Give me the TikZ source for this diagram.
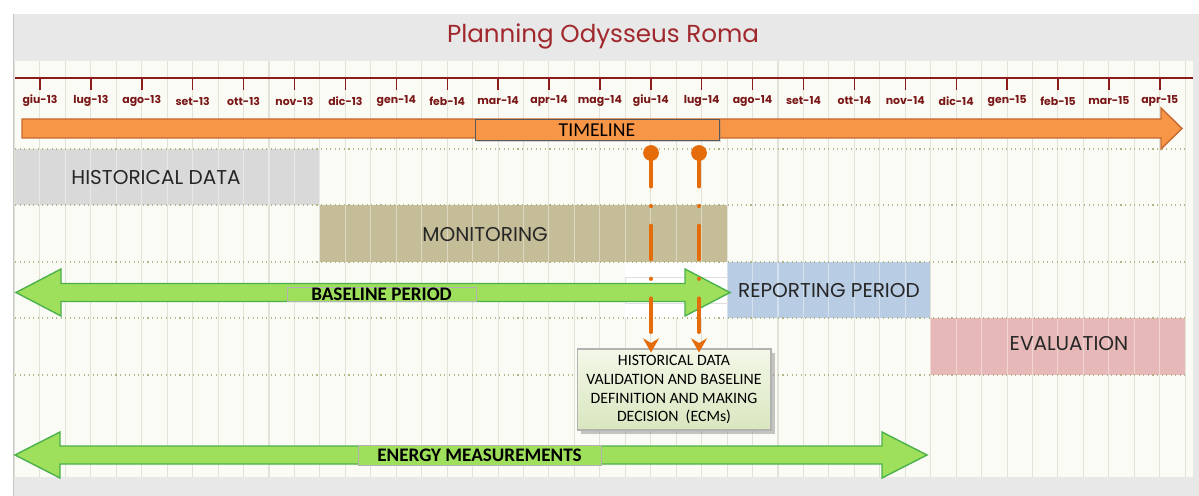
\documentclass[tikz,border=0pt]{standalone}
\usepackage{fontspec}
\setmainfont{Carlito}
\newfontfamily\gothic{Poppins}
\usepackage{xcolor}
\usetikzlibrary{arrows.meta,shadows,calc}

\definecolor{panelgray}{HTML}{E8E8E8}
\definecolor{chartbg}{HTML}{FBFBF5}
\definecolor{gridline}{HTML}{E2E2D9}
\definecolor{rowline}{HTML}{B4B488}
\definecolor{axisred}{HTML}{8E1B1B}
\definecolor{titlered}{HTML}{A0282D}
\definecolor{tlorange}{HTML}{F79646}
\definecolor{tledge}{HTML}{C8692E}
\definecolor{pinorange}{HTML}{E46C0A}
\definecolor{histgray}{HTML}{D9D9D9}
\definecolor{monkhaki}{HTML}{C4BD97}
\definecolor{repblue}{HTML}{B8CCE4}
\definecolor{evalpink}{HTML}{E6B9B8}
\definecolor{arrowgreen}{HTML}{9EE05C}
\definecolor{arrowedge}{HTML}{4CB04C}
\definecolor{boxgreenA}{HTML}{F3F8E8}
\definecolor{boxgreenB}{HTML}{D9E6BF}

\begin{document}
\begin{tikzpicture}[
    x=0.02cm, y=-0.02cm,
    title/.style={font=\gothic\fontsize{14}{16}\selectfont, text=titlered},
    month/.style={font=\gothic\bfseries\fontsize{6.2}{7}\selectfont, text=axisred!85!black},
    bartext/.style={font=\gothic\fontsize{11.4}{13}\selectfont, text=black!85},
    tlbody/.style={fill=tlorange, draw=tledge, line width=0.8pt},
    tlbox/.style={draw=gray!70!black, line width=0.5pt, minimum width=4.88cm, minimum height=0.42cm,
                  inner sep=0pt, font=\fontsize{11.2}{12}\selectfont,
                  drop shadow={shadow xshift=1pt, shadow yshift=-1pt, opacity=0.3}, fill=tlorange},
    greenarrow/.style={fill=arrowgreen, draw=arrowedge, line width=0.8pt},
    arrowtag/.style={draw=gray!60, line width=0.4pt, inner sep=0pt, fill=arrowgreen,
                     font=\bfseries\fontsize{10.9}{12}\selectfont},
    decision/.style={draw=gray!60, line width=0.6pt, top color=boxgreenA, bottom color=boxgreenB,
                     minimum width=3.88cm, minimum height=1.62cm, inner sep=1pt, align=center,
                     font=\fontsize{9}{10.8}\selectfont,
                     drop shadow={shadow xshift=2pt, shadow yshift=-2pt, opacity=0.45}},
    pinline/.style={pinorange, line width=2.4pt, line cap=round,
                    dash pattern=on 19pt off 11.2pt on 0.01pt off 11.2pt},
    >={Stealth[length=8pt,width=9pt]}
]
\useasboundingbox (0,0) rectangle (1199,496);

% frame and chart area
\fill[panelgray] (13,14) rectangle (1199,496);
\draw[gray!45, line width=1pt] (13.5,14) -- (13.5,496);
\fill[chartbg] (15,61) rectangle (1193,477);
\foreach \i in {0,...,46}
    \draw[gridline, line width=0.6pt] ({14.5+25.45*\i},61) -- ++(0,416);

\node[title] (title) at (603,36) {Planning Odysseus Roma};

% month axis
\draw[axisred, line width=1.2pt] (15,78) -- (1193,78);
\foreach \m [count=\i from 0] in {giu-13,lug-13,ago-13,set-13,ott-13,nov-13,dic-13,gen-14,feb-14,
        mar-14,apr-14,mag-14,giu-14,lug-14,ago-14,set-14,ott-14,nov-14,dic-14,gen-15,feb-15,mar-15,apr-15}{
    \draw[axisred, line width=0.8pt] ({40+50.9*\i},78) -- ++(0,12);
    \node[month] (m\i) at ({40+50.9*\i},101) {\m};
}

% activity bars
\fill[histgray] (15,149) rectangle (320,205);
\fill[monkhaki] (320,205) rectangle (727,262);
\fill[repblue] (727,262) rectangle (930,318);
\fill[evalpink] (930,318) rectangle (1185,375);
\begin{scope}
    \clip (15,149) rectangle (320,205) (320,205) rectangle (727,262)
          (727,262) rectangle (930,318) (930,318) rectangle (1185,375);
    \foreach \i in {0,...,46}
        \draw[white, opacity=0.4, line width=0.6pt] ({14.5+25.45*\i},61) -- ++(0,416);
\end{scope}
\fill[white] (625,262) rectangle (727,318);
\draw[gray!25, line width=0.5pt] (625,277) rectangle (727,303);
\foreach \y in {149,205,262,318,375}
    \draw[rowline, dotted, line width=0.6pt] (15,\y) -- (1185,\y);

\node[bartext] (hist) at (156,178) {HISTORICAL DATA};
\node[bartext] (mon) at (485,235) {MONITORING};
\node[bartext] (rep) at (829,291) {REPORTING PERIOD};
\node[bartext] (eval) at (1069,344) {EVALUATION};

% timeline
\draw[tlbody] (22,119) -- (1161,119) -- (1161,108) -- (1182,128.5) -- (1161,149) -- (1161,138)
    -- (22,138) -- cycle;
\node[tlbox] (timeline) at (597,130) {TIMELINE};

% baseline and energy arrows
\draw[greenarrow] (16,292.5) -- (61,269) -- (61,283.5) -- (685,283.5) -- (685,269) -- (730,292.5)
    -- (685,316) -- (685,301.5) -- (61,301.5) -- (61,316) -- cycle;
\node[arrowtag, minimum width=3.78cm, minimum height=0.28cm] (baseline) at (381.5,294) {BASELINE PERIOD};

\draw[greenarrow] (15,455) -- (60,432) -- (60,446) -- (882,446) -- (882,432) -- (927,455)
    -- (882,478) -- (882,464) -- (60,464) -- (60,478) -- cycle;
\node[arrowtag, minimum width=4.86cm, minimum height=0.4cm] (energy) at (479.5,455) {ENERGY MEASUREMENTS};

% milestones
\node[decision] (decision) at (674,389.5) {HISTORICAL DATA\\VALIDATION AND BASELINE\\DEFINITION AND MAKING\\DECISION\ \ (ECMs)};
\coordinate (pinA) at (651,153);
\coordinate (pinB) at (699,153);
\draw[pinline, ->] (pinA) -- ($(pinA |- decision.north)+(0,4)$);
\draw[pinline, ->] (pinB) -- ($(pinB |- decision.north)+(0,4)$);
\fill[pinorange] (pinA) circle[radius=4.5pt];
\fill[pinorange] (pinB) circle[radius=4.5pt];
\end{tikzpicture}
\end{document}
